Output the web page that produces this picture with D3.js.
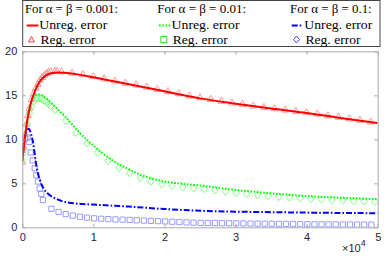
<!DOCTYPE html>
<html>
<head>
<meta charset="utf-8">
<script src="https://cdn.jsdelivr.net/npm/d3@7"></script>
<style>
  body { margin: 0; background: #fff; }
  svg { display: block; }
</style>
</head>
<body>
<svg width="388" height="262"></svg>
<script>
// iterations (raw) and error values
const redLineX = [0, 200, 400, 600, 800, 1000, 1300, 1600, 2000, 2500, 3000, 3500, 4000, 5000, 6000, 8000, 10000, 15000, 20000, 25000, 30000, 35000, 40000, 45000, 50000];
const redLineY = [7.5, 9.0, 10.4, 11.6, 12.6, 13.4, 14.4, 15.1, 15.9, 16.6, 17.05, 17.35, 17.5, 17.6, 17.55, 17.35, 17.05, 16.25, 15.45, 14.65, 14.05, 13.5, 13.0, 12.4, 11.85];

const greenLineX = [0, 300, 600, 900, 1200, 1600, 2000, 2500, 3000, 4000, 5000, 6000, 7000, 8000, 9000, 10000, 11000, 12000, 13500, 15000, 16500, 18000, 20000, 22500, 25000, 30000, 35000, 40000, 45000, 50000];
const greenLineY = [7.6, 9.6, 11.6, 13.1, 14.1, 14.8, 15.1, 15.1, 14.9, 14.2, 13.4, 12.6, 11.7, 10.8, 10.0, 9.3, 8.6, 8.0, 7.2, 6.6, 6.0, 5.6, 5.2, 4.95, 4.75, 4.25, 3.85, 3.55, 3.35, 3.2];

const blueLineX = [0, 300, 600, 900, 1200, 1500, 1800, 2000, 2500, 3000, 3500, 4500, 5500, 7000, 8500, 10000, 12500, 15000, 20000, 25000, 30000, 35000, 40000, 45000, 50000];
const blueLineY = [8.5, 10.0, 10.9, 11.2, 10.7, 9.7, 8.0, 6.9, 5.3, 4.4, 3.9, 3.35, 3.0, 2.75, 2.64, 2.58, 2.47, 2.35, 2.08, 1.88, 1.78, 1.72, 1.67, 1.63, 1.6];

const redRegX = [0, 200, 400, 600, 800, 1000, 1300, 1600, 1900, 2200, 2500, 2800, 3100, 3400, 3700, 4000, 4600, 4900, 5500, 7000, 8500, 10000, 11500, 13000, 14500, 16000, 17500, 19000, 20500, 22000, 23500, 25000, 26500, 28000, 29500, 31000, 32500, 34000, 35500, 37000, 38500, 40000, 41500, 43000, 44500, 46000, 47500, 49000];
const redRegY = [7.5, 9.2, 10.6, 11.8, 12.8, 13.6, 14.6, 15.3, 15.9, 16.3, 16.8, 17.1, 17.35, 17.55, 17.7, 17.75, 17.8, 17.8, 17.75, 17.6, 17.45, 17.2, 16.95, 16.7, 16.45, 16.25, 16.0, 15.75, 15.5, 15.25, 15.0, 14.8, 14.6, 14.4, 14.2, 14.05, 13.85, 13.7, 13.55, 13.4, 13.25, 13.1, 12.95, 12.75, 12.6, 12.4, 12.25, 12.05];

const greenRegX = [0, 100, 400, 700, 1000, 1300, 1600, 1900, 2200, 2500, 2800, 3100, 3400, 3700, 4000, 4600, 6100, 7600, 9100, 10600, 12100, 13600, 15100, 16600, 18100, 19600, 21100, 22600, 24100, 25600, 27100, 28600, 30100, 31600, 33100, 34600, 36100, 37600, 39100, 40600, 42100, 43600, 45100, 46600, 48100, 49600];
const greenRegY = [7.6, 8.4, 10.0, 11.8, 13.0, 13.7, 14.3, 14.55, 14.65, 14.65, 14.55, 14.4, 14.2, 14.0, 13.8, 13.3, 12.1, 10.75, 9.55, 8.5, 7.55, 6.75, 6.15, 5.6, 5.2, 4.9, 4.7, 4.55, 4.45, 4.35, 4.2, 4.05, 3.9, 3.78, 3.66, 3.55, 3.47, 3.39, 3.3, 3.23, 3.17, 3.1, 3.05, 3.0, 2.95, 2.9];

const blueRegX = [0, 400, 750, 1000, 1180, 1460, 1740, 1970, 2200, 2450, 2670, 2900, 4100, 5100, 6100, 7100, 8100, 9100, 10100, 11100, 12100, 13100, 14100, 15100, 16100, 17100, 18100, 19100, 20100, 21100, 22100, 23100, 24100, 25100, 26100, 27100, 28100, 29100, 30100, 31100, 32100, 33100, 34100, 35100, 36100, 37100, 38100, 39100, 40100, 41100, 42100, 43100, 44100, 45100, 46100, 47100, 48100, 49100];
const blueRegY = [8.8, 10.1, 10.2, 9.7, 8.5, 7.6, 6.7, 5.9, 5.2, 4.4, 3.8, 3.1, 2.1, 1.75, 1.5, 1.33, 1.2, 1.1, 1.02, 0.97, 0.93, 0.9, 0.87, 0.84, 0.8, 0.77, 0.73, 0.7, 0.67, 0.63, 0.6, 0.56, 0.53, 0.5, 0.49, 0.48, 0.47, 0.46, 0.45, 0.44, 0.43, 0.42, 0.41, 0.4, 0.39, 0.38, 0.37, 0.36, 0.35, 0.34, 0.34, 0.33, 0.33, 0.32, 0.32, 0.31, 0.31, 0.3];

const xTicks = [0, 10000, 20000, 30000, 40000, 50000];
const yTicks = [0, 5, 10, 15, 20];
const legendTitles = ['For \u03B1 = \u03B2 = 0.001:', 'For \u03B1 = \u03B2 = 0.01:', 'For \u03B1 = \u03B2 = 0.1:'];

const svg = d3.select('svg');
const x = d3.scaleLinear().domain([0, 50000]).range([22.3, 377.7]);
const y = d3.scaleLinear().domain([0, 20]).range([227.3, 51.3]);

const zip = (xs, ys) => xs.map((v, i) => [v, ys[i]]);

// marker paths, MATLAB-like
function markerPath(type, r) {
  const p = d3.path();
  if (type === 'tri') {
    p.moveTo(0, -r); p.lineTo(r, r * 0.8); p.lineTo(-r, r * 0.8); p.closePath();
  } else if (type === 'sq') {
    p.rect(-r, -r, 2 * r, 2 * r);
  } else {
    p.moveTo(0, -r * 1.15); p.lineTo(r, 0); p.lineTo(0, r * 1.15); p.lineTo(-r, 0); p.closePath();
  }
  return p.toString();
}

svg.append('clipPath').attr('id', 'clip')
  .append('rect').attr('x', 22.3).attr('y', 51.3).attr('width', 355.4).attr('height', 176);

const plot = svg.append('g').attr('clip-path', 'url(#clip)');

// axes (ticks inward, box)
const gx = svg.append('g').attr('transform', 'translate(0,227.3)')
  .call(d3.axisBottom(x).tickValues(xTicks).tickSizeInner(-3.5).tickSizeOuter(0).tickPadding(6).tickFormat(d => d / 10000));
const gxt = svg.append('g').attr('transform', 'translate(0,51.3)')
  .call(d3.axisTop(x).tickValues(xTicks).tickSizeInner(-3.5).tickSizeOuter(0).tickFormat(''));
const gy = svg.append('g').attr('transform', 'translate(22.3,0)')
  .call(d3.axisLeft(y).tickValues(yTicks).tickSizeInner(-3.5).tickSizeOuter(0).tickPadding(5));
const gyr = svg.append('g').attr('transform', 'translate(377.7,0)')
  .call(d3.axisRight(y).tickValues(yTicks).tickSizeInner(-3.5).tickSizeOuter(0).tickFormat(''));

[gx, gxt, gy, gyr].forEach(g => {
  g.select('.domain').attr('stroke', '#a8a8a8');
  g.selectAll('.tick line').attr('stroke', '#a8a8a8');
  g.selectAll('text').attr('fill', '#262626').style('font-family', 'Liberation Sans, Arial, sans-serif').style('font-size', '11px');
});

// multiplier
const mult = svg.append('text').attr('x', 342).attr('y', 252)
  .style('font-family', 'Liberation Sans, Arial, sans-serif').style('font-size', '11px').attr('fill', '#262626');
mult.append('tspan').text('\u00D710');
mult.append('tspan').attr('dy', -6).style('font-size', '9px').text('4');

// markers
const series = [
  { pts: zip(redRegX, redRegY), type: 'tri', color: '#ff8a8a', r: 3.4 },
  { pts: zip(greenRegX, greenRegY), type: 'dia', color: '#74ff74', r: 3.2 },
  { pts: zip(blueRegX, blueRegY), type: 'sq', color: '#8f8fff', r: 2.6 },
];
series.forEach(s => {
  plot.append('g').selectAll('path').data(s.pts).join('path')
    .attr('transform', d => `translate(${x(d[0])},${y(d[1])})`)
    .attr('d', markerPath(s.type, s.r))
    .attr('fill', 'none').attr('stroke', s.color).attr('stroke-width', 0.9);
});

// lines
const line = d3.line().x(d => x(d[0])).y(d => y(d[1])).curve(d3.curveMonotoneX);
plot.append('path').datum(zip(greenLineX, greenLineY)).attr('d', line)
  .attr('fill', 'none').attr('stroke', '#00ff00').attr('stroke-width', 2).attr('stroke-dasharray', '1.6,1.6');
plot.append('path').datum(zip(blueLineX, blueLineY)).attr('d', line)
  .attr('fill', 'none').attr('stroke', '#0000ff').attr('stroke-width', 2).attr('stroke-dasharray', '6,2,1.6,2');
plot.append('path').datum(zip(redLineX, redLineY)).attr('d', line)
  .attr('fill', 'none').attr('stroke', '#ff0000').attr('stroke-width', 2);

// legend
const lg = svg.append('g');
lg.append('rect').attr('x', 22.7).attr('y', 0.5).attr('width', 357.3).attr('height', 46)
  .attr('fill', '#fff').attr('stroke', '#444').attr('stroke-width', 1);
const colX = [25, 157.3, 290];
const titleW = [93, 88.7, 81.7];
const lgFont = 'Liberation Serif, Times New Roman, serif';
function lgText(xp, yp, t, w) {
  lg.append('text').attr('x', xp).attr('y', yp).text(t)
    .attr('textLength', w).attr('lengthAdjust', 'spacingAndGlyphs')
    .style('font-family', lgFont).style('font-size', '12px').attr('fill', '#000');
}
legendTitles.forEach((t, i) => {
  lgText(colX[i], 13, t, titleW[i]);
  lgText(colX[i] + 14.3, 29, 'Unreg. error', 68);
  lgText(colX[i] + 15.5, 44, 'Reg. error', 55);
});
const lgStyle = [
  { color: '#ff0000', dash: null, mk: 'tri', mc: '#ff3b3b' },
  { color: '#00ff00', dash: '1.6,1.6', mk: 'sq', mc: '#2ee82e' },
  { color: '#0000ff', dash: '6,2,1.6,2', mk: 'dia', mc: '#3b3bff' },
];
lgStyle.forEach((s, i) => {
  lg.append('line').attr('x1', colX[i] + 1.7).attr('x2', colX[i] + 13.3).attr('y1', 25.5).attr('y2', 25.5)
    .attr('stroke', s.color).attr('stroke-width', 2).attr('stroke-dasharray', s.dash);
  lg.append('path').attr('transform', `translate(${colX[i] + 6.5},39.5)`)
    .attr('d', markerPath(s.mk, 3)).attr('fill', 'none').attr('stroke', s.mc).attr('stroke-width', 1);
});
</script>
</body>
</html>
